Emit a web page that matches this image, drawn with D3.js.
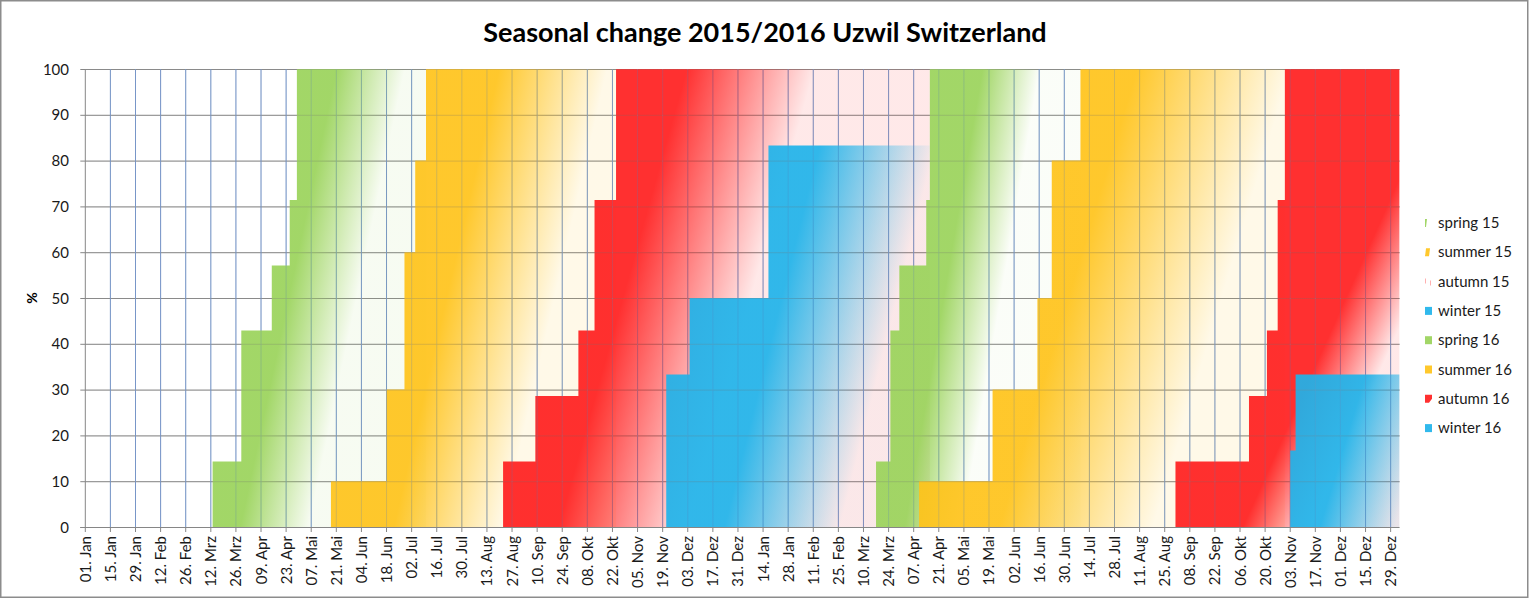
<!DOCTYPE html>
<html>
<head>
<meta charset="utf-8">
<title>Seasonal change 2015/2016 Uzwil Switzerland</title>
<script src="https://cdn.jsdelivr.net/npm/d3@7"></script>
<style>
  body { margin: 0; background: #fff; }
  text { font-family: Lato, "Open Sans", sans-serif; }
</style>
</head>
<body>
<script>
// each series: [date from which the value holds, percent]
var spring15 = [["2015-03-13", 14.3], ["2015-03-29", 42.9], ["2015-04-15", 57.1], ["2015-04-25", 71.4], ["2015-04-29", 100], ["2015-07-10", 0]];
var summer15 = [["2015-05-18", 10], ["2015-06-18", 30], ["2015-06-28", 60], ["2015-07-04", 80], ["2015-07-10", 100], ["2015-10-24", 0]];
var autumn15 = [["2015-08-22", 14.3], ["2015-09-09", 28.6], ["2015-10-03", 42.9], ["2015-10-12", 71.4], ["2015-10-24", 100], ["2016-04-16", 0]];
var winter15 = [["2015-11-21", 33.3], ["2015-12-04", 50], ["2016-01-17", 83.3], ["2016-04-16", 0]];
var spring16 = [["2016-03-17", 14.3], ["2016-03-25", 42.9], ["2016-03-30", 57.1], ["2016-04-14", 71.4], ["2016-04-16", 100], ["2016-07-09", 0]];
var summer16 = [["2016-04-10", 10], ["2016-05-21", 30], ["2016-06-15", 50], ["2016-06-23", 80], ["2016-07-09", 100], ["2016-10-31", 0]];
var autumn16 = [["2016-08-31", 14.3], ["2016-10-11", 28.6], ["2016-10-21", 42.9], ["2016-10-27", 71.4], ["2016-10-31", 100], ["2017-01-03", 0]];
var winter16 = [["2016-11-03", 16.7], ["2016-11-06", 33.3], ["2017-01-03", 0]];

var seriesNames = ["spring 15", "summer 15", "autumn 15", "winter 15", "spring 16", "summer 16", "autumn 16", "winter 16"];
var seriesData = [spring15, summer15, autumn15, winter15, spring16, summer16, autumn16, winter16];
var seriesColors = ["#9ad35a", "#ffc31a", "#ff1e1e", "#1fb3ea", "#9ad35a", "#ffc31a", "#ff1e1e", "#1fb3ea"];

var monthNames = ["Jan", "Feb", "Mrz", "Apr", "Mai", "Jun", "Jul", "Aug", "Sep", "Okt", "Nov", "Dez"];
var yTicks = [0, 10, 20, 30, 40, 50, 60, 70, 80, 90, 100];

// gradient look per series: full colour until / faded at (share of the area width,
// measured on the base line), slant of the colour bands, opacity of the faded end
var gradStyle = [
    [0.13, 0.45, 0.21, 0.08],
    [0.22, 0.6, 0.23, 0.1],
    [0.13, 0.43, 0.28, 0.1],
    [0.22, 0.66, 0.25, 0.02],
    [0.14, 0.42, 0.17, 0.04],
    [0.22, 0.64, 0.30, 0.1],
    [0.30, 0.60, 0.45, 0.1],
    [0.27, 0.96, 0.30, 0.1]
];

var w = 1530, h = 600;
var pLeft = 85.3, pRight = 1399.6, pTop = 69, pBottom = 527;
var parse = d3.timeParse("%Y-%m-%d");

var x = d3.scaleTime()
    .domain([new Date(2015, 0, 1), new Date(2017, 0, 3)])
    .range([pLeft, pRight]);
var y = d3.scaleLinear().domain([0, 100]).range([pBottom, pTop]);

// a tick every 14 days, starting 01. Jan 2015
var xTicks = d3.timeDay.every(1).range(new Date(2015, 0, 1), new Date(2017, 0, 1))
    .filter(function(d, i) { return i % 14 === 0; });
function fmt(d) {
    return d3.timeFormat("%d")(d) + ". " + monthNames[d.getMonth()];
}

var svg = d3.select("body").append("svg")
    .attr("width", w)
    .attr("height", h);

svg.append("rect")
    .attr("x", 0.75).attr("y", 0.75)
    .attr("width", w - 3).attr("height", h - 3.5)
    .attr("fill", "#fff")
    .attr("stroke", "#8c8c8c")
    .attr("stroke-width", 1.5);

var defs = svg.append("defs");
defs.append("clipPath").attr("id", "plot")
    .append("rect")
    .attr("x", pLeft).attr("y", pTop)
    .attr("width", pRight - pLeft).attr("height", pBottom - pTop);

// grid, drawn below the areas
function drawGrid(g, op) {
    g.selectAll("line.h")
        .data(yTicks.slice(1))
        .enter().append("line")
        .attr("class", "h")
        .attr("x1", pLeft).attr("x2", pRight)
        .attr("y1", function(d) { return y(d) + 0.5; })
        .attr("y2", function(d) { return y(d) + 0.5; })
        .attr("stroke", "#8a8a8a")
        .attr("stroke-opacity", op);
    g.selectAll("line.v")
        .data(xTicks.slice(1))
        .enter().append("line")
        .attr("class", "v")
        .attr("x1", function(d) { return x(d); })
        .attr("x2", function(d) { return x(d); })
        .attr("y1", pTop).attr("y2", pBottom)
        .attr("stroke", "#7896c8")
        .attr("stroke-opacity", op);
}
drawGrid(svg.append("g"), 1);

var area = d3.area()
    .curve(d3.curveStepAfter)
    .x(function(d) { return x(d.date); })
    .y0(y(0))
    .y1(function(d) { return y(d.value); });

var areas = svg.append("g").attr("clip-path", "url(#plot)");

seriesData.forEach(function(s, i) {
    var pts = s.map(function(p) { return {date: parse(p[0]), value: p[1]}; });
    var st = gradStyle[i];
    var x0 = x(pts[0].date);
    var x1 = Math.min(x(pts[pts.length - 1].date), pRight);
    var xs = x0 + st[0] * (x1 - x0);
    var xf = x0 + st[1] * (x1 - x0);
    var k = (xf - xs) / (1 + st[2] * st[2]);
    // slanted bands: perpendicular to (1, slant)
    var grad = defs.append("linearGradient")
        .attr("id", "g" + i)
        .attr("gradientUnits", "userSpaceOnUse")
        .attr("x1", xs).attr("y1", pBottom)
        .attr("x2", xs + k).attr("y2", pBottom + st[2] * k);
    grad.append("stop")
        .attr("offset", 0)
        .attr("stop-color", seriesColors[i])
        .attr("stop-opacity", 0.92);
    grad.append("stop")
        .attr("offset", 1)
        .attr("stop-color", seriesColors[i])
        .attr("stop-opacity", st[3]);
    areas.append("path")
        .datum(pts)
        .attr("d", area)
        .attr("fill", "url(#g" + i + ")");
});

// faint grid over the fills (fills are not fully opaque in the original)
drawGrid(svg.append("g"), 0.25);

// axes
svg.append("line")
    .attr("x1", pLeft).attr("x2", pLeft)
    .attr("y1", pTop).attr("y2", pBottom)
    .attr("stroke", "#868686");
svg.append("line")
    .attr("x1", pLeft - 5).attr("x2", pRight)
    .attr("y1", pBottom + 0.5).attr("y2", pBottom + 0.5)
    .attr("stroke", "#868686");

svg.selectAll("line.ytick")
    .data(yTicks)
    .enter().append("line")
    .attr("class", "ytick")
    .attr("x1", pLeft - 5).attr("x2", pLeft)
    .attr("y1", function(d) { return y(d) + 0.5; })
    .attr("y2", function(d) { return y(d) + 0.5; })
    .attr("stroke", "#868686");

svg.selectAll("text.ylab")
    .data(yTicks)
    .enter().append("text")
    .attr("class", "ylab")
    .text(function(d) { return d; })
    .attr("x", 69)
    .attr("y", function(d) { return y(d) + 5.5; })
    .attr("text-anchor", "end")
    .attr("font-size", "15px")
    .attr("fill", "#1a1a1a");

svg.selectAll("line.xtick")
    .data(xTicks)
    .enter().append("line")
    .attr("class", "xtick")
    .attr("x1", function(d) { return x(d); })
    .attr("x2", function(d) { return x(d); })
    .attr("y1", pBottom).attr("y2", pBottom + 5)
    .attr("stroke", "#868686");

svg.selectAll("text.xlab")
    .data(xTicks)
    .enter().append("text")
    .attr("class", "xlab")
    .text(fmt)
    .attr("text-anchor", "end")
    .attr("font-size", "15px")
    .attr("fill", "#1a1a1a")
    .attr("transform", function(d) {
        return "translate(" + (x(d) + 5.5) + "," + (pBottom + 9) + ") rotate(-90)";
    });

svg.append("text")
    .text("%")
    .attr("text-anchor", "middle")
    .attr("font-size", "14px")
    .attr("font-weight", "bold")
    .attr("transform", "translate(37,298) rotate(-90)");

svg.append("text")
    .text("Seasonal change 2015/2016 Uzwil Switzerland")
    .attr("x", 765)
    .attr("y", 42)
    .attr("text-anchor", "middle")
    .attr("font-size", "27px")
    .attr("font-weight", "bold")
    .attr("fill", "#000");

// legend
var legend = svg.append("g").attr("transform", "translate(1425,223)");
var rows = legend.selectAll("g")
    .data(seriesNames)
    .enter().append("g")
    .attr("transform", function(d, i) { return "translate(0," + (i * 29.3) + ")"; });
// the first keys only show a sliver of their gradient in the original
var keyShapes = [
    "M0,-4L2,-4L1,4L0,4Z",
    "M1,-4L5,-4L4,4L0,4Z",
    "M0,-3L1,-3L1,2L0,2ZM5,-1L6,-1L6,4L5,4Z",
    "M0,-4L7,-4L7,4L0,4Z",
    "M0,-4L7,-4L7,4L0,4Z",
    "M0,-4L7,-4L7,4L0,4Z",
    "M0,-4L7,-4L7,0L4,4L0,4Z",
    "M0,-4L7,-4L7,4L0,4Z"
];
rows.append("path")
    .attr("d", function(d, i) { return keyShapes[i]; })
    .attr("fill", function(d, i) { return seriesColors[i]; })
    .attr("fill-opacity", function(d, i) { return i === 2 ? 0.35 : 0.92; });
rows.append("text")
    .text(function(d) { return d; })
    .attr("x", 13)
    .attr("y", 5)
    .attr("font-size", "15px")
    .attr("fill", "#1a1a1a");
</script>
</body>
</html>
